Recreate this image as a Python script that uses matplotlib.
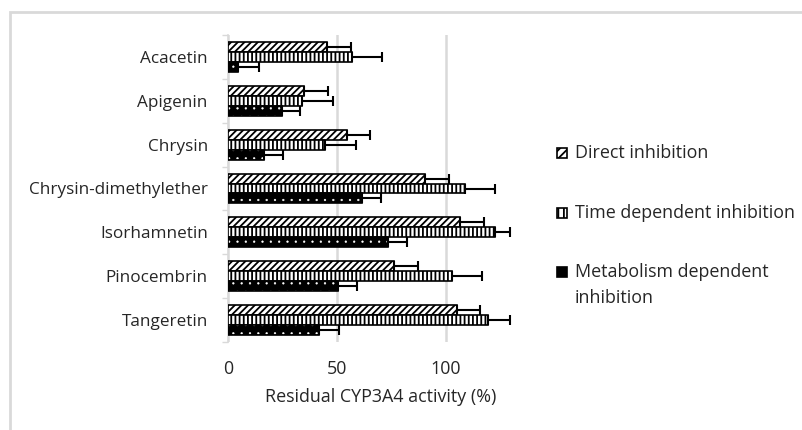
import numpy as np
import matplotlib
matplotlib.use("Agg")
import matplotlib.pyplot as plt
from matplotlib.patches import Rectangle

# Data
compounds = ["Acacetin", "Apigenin", "Chrysin", "Chrysin-dimethylether",
             "Isorhamnetin", "Pinocembrin", "Tangeretin"]
direct = [45.3, 35.0, 54.4, 90.4, 106.7, 76.1, 105.2]
direct_err = [11.1, 10.7, 10.6, 11.1, 10.9, 10.9, 10.4]
time_dep = [56.7, 34.0, 44.5, 108.7, 122.5, 102.6, 119.4]
time_err = [14.1, 14.0, 14.2, 13.8, 7.0, 14.2, 10.0]
metab = [4.7, 24.6, 16.5, 61.3, 73.3, 50.6, 41.9]
metab_err = [9.3, 8.4, 8.9, 8.9, 8.7, 8.7, 9.0]
series_names = ["Direct inhibition", "Time dependent inhibition",
                "Metabolism dependent\ninhibition"]

plt.rcParams['font.family'] = ['Open Sans', 'DejaVu Sans']
text_col = '#262626'
W, H = 803, 430

fig = plt.figure(figsize=(8.03, 4.30), dpi=100)
ax = fig.add_axes([228 / W, 1 - 342 / H, (533 - 228) / W, (342 - 35) / H])

# chart frame
fig.patches.append(Rectangle((10 / W, -0.1), 1.0, 1 - 12 / H + 0.1,
                             transform=fig.transFigure, fill=False,
                             edgecolor='#d9d9d9', linewidth=2, zorder=0))

y = np.arange(len(compounds))
h = 0.228
err_kw = dict(ecolor='black', elinewidth=1.5, capsize=3.6, capthick=1.5)

plt.rcParams['hatch.linewidth'] = 1.3
ax.barh(y - h, direct, height=h, color='white', edgecolor='black',
        hatch='/////', linewidth=1.2, zorder=3)
ax.errorbar(direct, y - h, xerr=[np.zeros(7), direct_err], fmt='none', zorder=4, **err_kw)

ax.barh(y, time_dep, height=h, color='white', edgecolor='black',
        hatch='||||', linewidth=1.2, zorder=3)
ax.errorbar(time_dep, y, xerr=[np.zeros(7), time_err], fmt='none', zorder=4, **err_kw)

plt.rcParams['hatch.linewidth'] = 0.4
ax.barh(y + h, metab, height=h, color='black', edgecolor='white',
        hatch='..', linewidth=0, zorder=3)
ax.barh(y + h, metab, height=h, fill=False, edgecolor='black', linewidth=1.2, zorder=3)
ax.errorbar(metab, y + h, xerr=[np.zeros(7), metab_err], fmt='none', zorder=4, **err_kw)

ax.set_xlim(0, 140)
ax.set_ylim(6.5, -0.5)
ax.set_xticks([0, 50, 100])
ax.set_yticks(y)
ax.set_yticklabels(compounds)
ax.set_yticks(np.arange(-0.5, 7.0, 1.0), minor=True)
ax.tick_params(axis='y', which='major', length=0, pad=14.5, labelsize=12.3, labelcolor=text_col)
ax.tick_params(axis='y', which='minor', length=4, color='#d9d9d9', width=1)
ax.tick_params(axis='x', length=0, pad=13, labelsize=12.9, labelcolor=text_col)
ax.grid(axis='x', color='#d9d9d9', linewidth=1.8, zorder=0)
ax.set_axisbelow(True)
for s in ['top', 'right', 'bottom']:
    ax.spines[s].set_visible(False)
ax.spines['left'].set_color('#d9d9d9')
ax.spines['left'].set_linewidth(1.2)
ax.set_xlabel("Residual CYP3A4 activity (%)", fontsize=12.9, color=text_col, labelpad=7)

# legend, drawn by hand so the two-line entry keeps Excel's spacing
plt.rcParams['hatch.linewidth'] = 1.3
legend_y = [153, 213, 272]
handle_styles = [dict(facecolor='white', hatch='////'),
                 dict(facecolor='white', hatch='|||'),
                 dict(facecolor='black')]
for name, ly, st in zip(series_names, legend_y, handle_styles):
    fig.patches.append(Rectangle((557 / W, 1 - (ly + 5) / H), 10 / W, 10 / H,
                                 transform=fig.transFigure, edgecolor='black',
                                 linewidth=1.2, **st))
    fig.text(575 / W, 1 - (ly - 9) / H, name, fontsize=12.9, color=text_col,
             va='top', ha='left', linespacing=1.55)

fig.savefig("out.png", dpi=100)
